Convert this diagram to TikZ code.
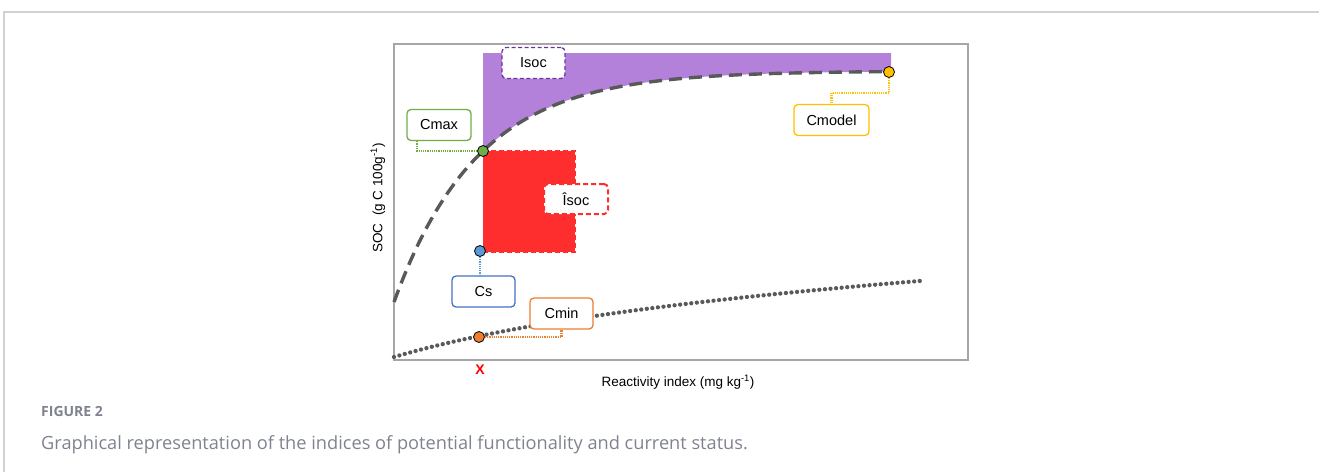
\documentclass[tikz,border=0pt]{standalone}
\usepackage{fontspec}
\setmainfont{Liberation Sans}
\newfontfamily\capfont{Open Sans}
\definecolor{cgreen}{HTML}{70AD47}
\definecolor{cyellow}{HTML}{FFC000}
\definecolor{cblue}{HTML}{4472C4}
\definecolor{cbluefill}{HTML}{5B9BD5}
\definecolor{corange}{HTML}{ED7D31}
\definecolor{cpurple}{HTML}{7030A0}
\definecolor{cpurplefill}{HTML}{B381DA}
\definecolor{cred}{HTML}{FF2E2E}
\definecolor{cgrey}{HTML}{595959}
\definecolor{capgrey}{HTML}{7F8390}
\tikzset{
  lbl/.style={draw, fill=white, rounded corners=4pt, line width=1.3pt, minimum width=#1, minimum height=31pt, inner sep=0pt, font=\fontsize{14.5}{16}\selectfont},
  lbl/.default=63pt,
  dotmark/.style={circle, draw=black, line width=0.8pt, fill=#1, minimum size=11pt, inner sep=0pt},
  leader/.style={line width=2.2pt, dash pattern=on 1.2pt off 1pt, draw=#1},
  reddash/.style={line width=2pt, dash pattern=on 5pt off 3pt},
}
\begin{document}
\begin{tikzpicture}[x=1pt,y=-1pt]
\useasboundingbox (0,0) rectangle (1319,472);
% outer card frame
\draw[gray!35, line width=1.2pt] (4,472) -- (4,12) -- (1319,12);
% purple fill
\fill[cpurplefill] (483,53) -- (891,53) -- (891,71.5)
  -- plot[domain=891:483, samples=80] (\x, {71+231*exp(-0.01192*(\x-394))}) -- cycle;
% red fill
\fill[cred] (483,151) rectangle (575,252);
\draw[cred, reddash] (483,151) -- (575,151) -- (575,252) -- (483,252);
% plot frame
\draw[gray!70, line width=1.2pt] (394,44) rectangle (968,360);
% dashed curve
\draw[cgrey, line width=3.4pt, dash pattern=on 13pt off 7pt]
  plot[domain=394:888, samples=120] (\x, {71+231*exp(-0.01192*(\x-394))});
% dotted curve
\draw[cgrey, line width=4.3pt, line cap=round, dash pattern=on 0pt off 5.6pt]
  plot[domain=394:925, samples=120] (\x, {357-59*ln(1+(\x-394)/200)});
% dots
\node[dotmark=cgreen] (gdot) at (483,151) {};
\node[dotmark=cbluefill] (bdot) at (480,251) {};
\node[dotmark=corange] (odot) at (479,337) {};
\node[dotmark=cyellow] (ydot) at (889,72) {};
% labels
\node[lbl, draw=cpurple, dash pattern=on 4pt off 2.5pt] (isoc) at (533.5,63) {Isoc};
\node[lbl=64pt, draw=cgreen] (cmax) at (439,125) {Cmax};
\node[lbl=64pt, draw=cred, reddash, minimum height=30pt] (ihat) at (576,199) {Îsoc};
\node[lbl, draw=cblue] (cs) at (483.5,291.5) {Cs};
\node[lbl, draw=corange] (cmin) at (561.5,313.5) {Cmin};
\node[lbl=75pt, draw=cyellow] (cmodel) at (831.5,120) {Cmodel};
% leaders
\draw[leader=cgreen] ([xshift=11pt]cmax.south west) |- (gdot.west);
\draw[leader=cbluefill] (bdot.south) -- (bdot |- cs.north);
\draw[leader=corange] (odot.east) -| (cmin.south);
\coordinate (ybend) at (889,93);
\draw[leader=cyellow] (ydot.south) -- (ybend) -| (cmodel.north);
% axis labels
\node[text=red, font=\bfseries\fontsize{14}{16}\selectfont] (xmark) at (480,370) {X};
\node[font=\fontsize{13.5}{15}\selectfont] (xlab) at (678,382) {Reactivity index (mg kg\textsuperscript{-1})};
\node[rotate=90, font=\fontsize{13.5}{15}\selectfont] (ylab) at (378,198) {SOC\ \ (g C 100g\textsuperscript{-1})};
% caption
\node[anchor=base west, text=capgrey, font=\capfont\bfseries\fontsize{14}{16}\selectfont, inner sep=0pt] (fig) at (41,416) {FIGURE 2};
\node[anchor=base west, text=capgrey, font=\capfont\fontsize{18.2}{20}\selectfont, inner sep=0pt] (cap) at (41,449) {Graphical representation of the indices of potential functionality and current status.};
\end{tikzpicture}
\end{document}
